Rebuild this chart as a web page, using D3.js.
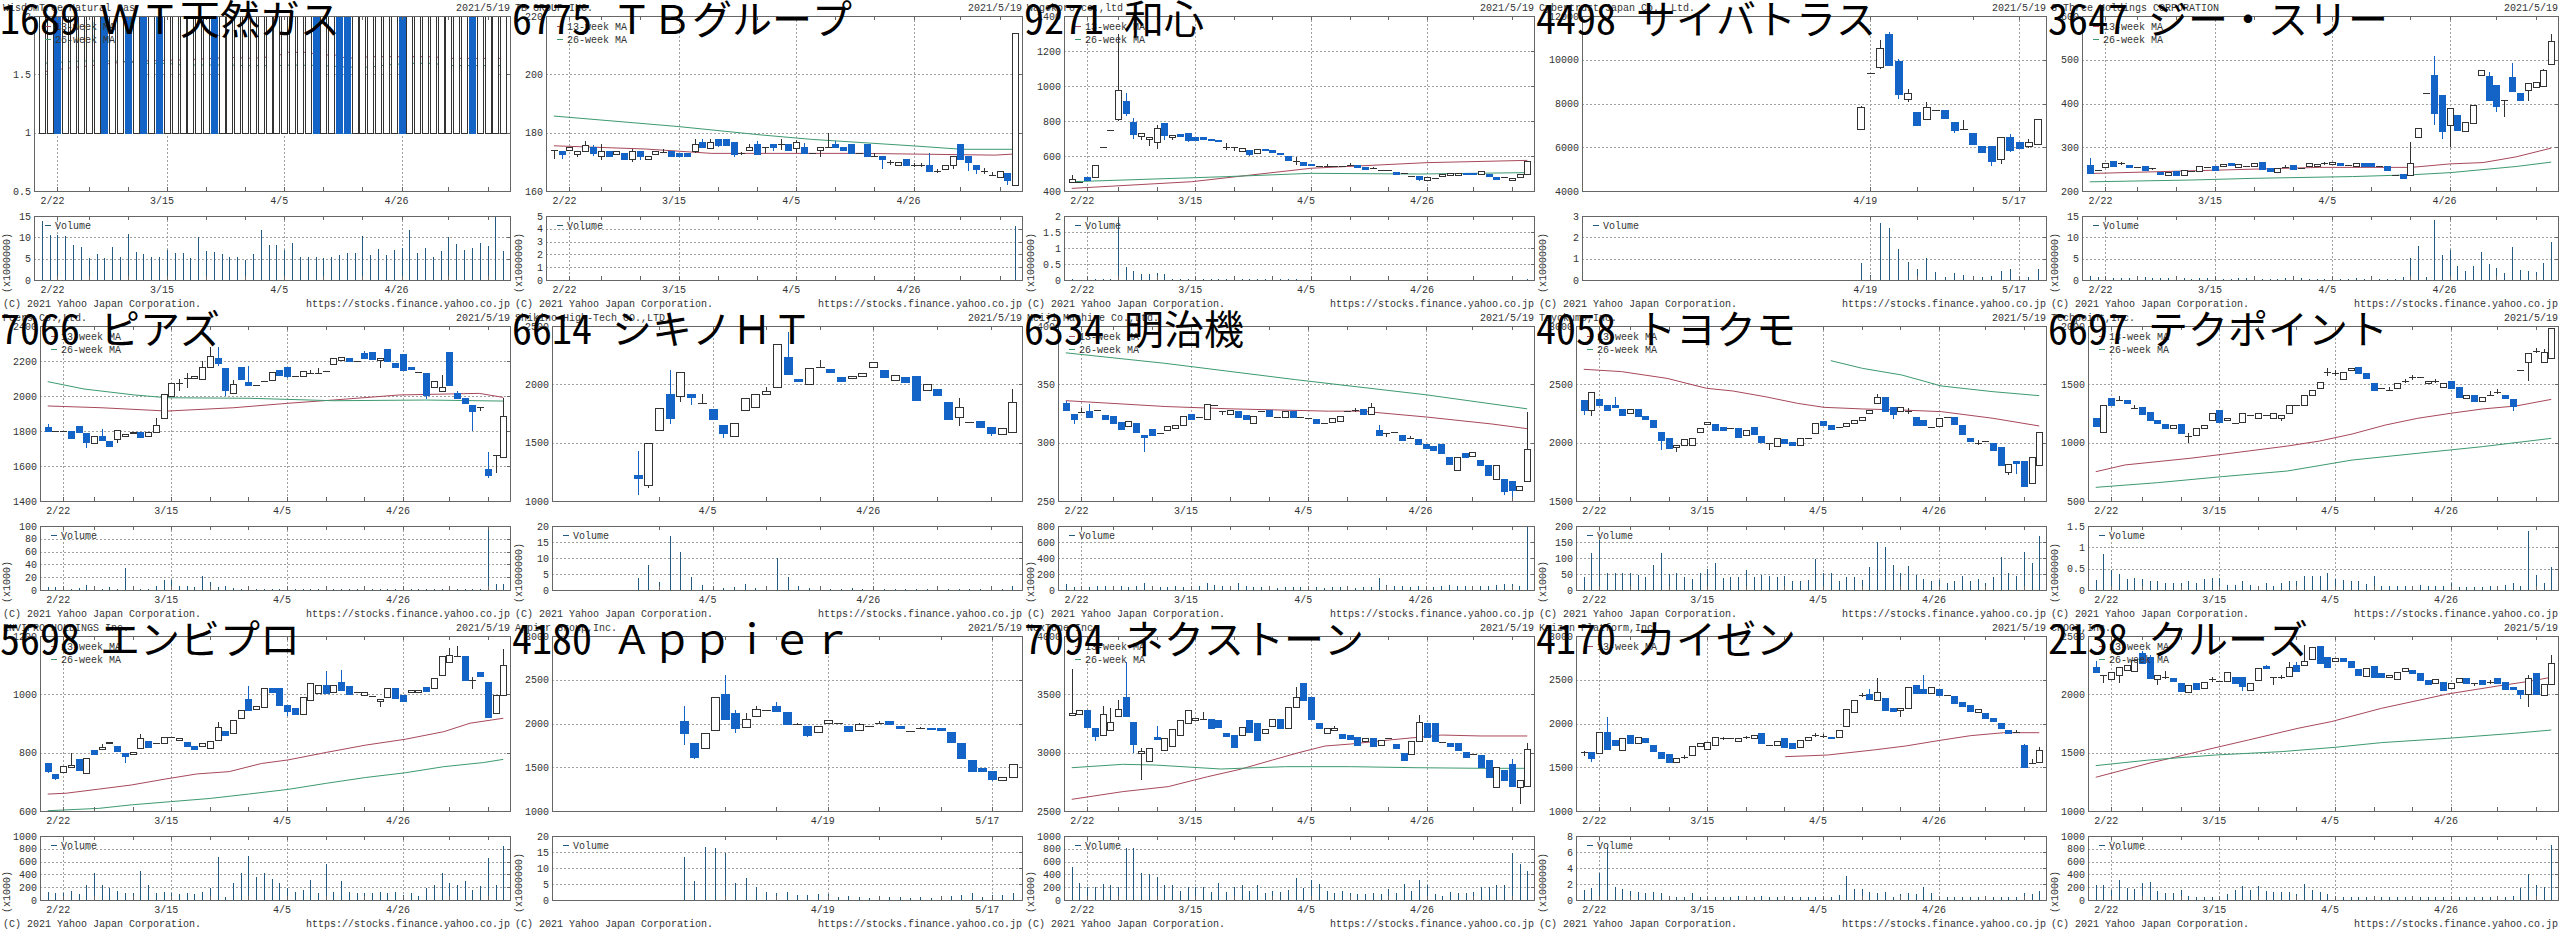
<!DOCTYPE html>
<html>
<head>
<meta charset="utf-8">
<script src="https://cdn.jsdelivr.net/npm/d3@7"></script>
<style>
  html, body { margin: 0; padding: 0; background: #fff; }
  svg text { font-family: "Liberation Mono", "DejaVu Sans Mono", monospace; font-size: 10px; fill: #333; }
  svg text.ttl { font-family: "Noto Sans Mono CJK JP", "Noto Sans CJK JP", sans-serif; font-size: 40px; fill: #000; }
</style>
</head>
<body>
<svg id="chart" width="2560" height="930"></svg>
<script>
// trading days shown on the x axis (2021)
const days = ["2/18","2/19","2/22","2/24","2/25","2/26","3/1","3/2","3/3","3/4","3/5","3/8","3/9","3/10","3/11","3/12",
  "3/15","3/16","3/17","3/18","3/19","3/22","3/23","3/24","3/25","3/26","3/29","3/30","3/31","4/1","4/2",
  "4/5","4/6","4/7","4/8","4/9","4/12","4/13","4/14","4/15","4/16","4/19","4/20","4/21","4/22","4/23",
  "4/26","4/27","4/28","4/30","5/6","5/7","5/10","5/11","5/12","5/13","5/14","5/17","5/18","5/19"];
const weekTicks = ["2/22","3/1","3/8","3/15","3/22","3/29","4/5","4/12","4/19","4/26","5/10","5/17"];
const fullLabels = ["2/22","3/15","4/5","4/26"];

const codes = ["1689","6775","9271","4498","3647","7066","6614","6334","4058","6697","5698","4180","7094","4170","2138"];
const titles = ["1689 ＷＴ天然ガス","6775 ＴＢグループ","9271 和心","4498 サイバトラス","3647 ジー・スリー",
  "7066 ピアズ","6614 シキノＨＴ","6334 明治機","4058 トヨクモ","6697 テクポイント",
  "5698 エンビプロ","4180 Ａｐｐｉｅｒ","7094 ネクストーン","4170 カイゼン","2138 クルーズ"];
const names = ["WisdomTree Natural Gas","TB GROUP INC.","Wagokoro co.,ltd","Cybertrust Japan Co., Ltd.","G Three Holdings CORPORATION",
  "Peers Co.,Ltd.","Shikino High-Tech CO.,LTD.","Meiji Machine Co.,Ltd.","Toyokumo,Inc.","Techpoint,Inc.",
  "ENVIPRO HOLDINGS Inc.","Appier Group,Inc.","NexTone Inc.","Kaizen Platform,Inc.","CROOZ,Inc."];
const firstDay = ["2/18","2/18","2/18","4/16","2/18","2/18","3/25","2/18","2/18","2/18","2/18","3/30","2/18","2/18","2/18"];
const dateLabels = [fullLabels, fullLabels, fullLabels, ["4/19","5/17"], fullLabels,
  fullLabels, ["4/5","4/26"], fullLabels, fullLabels, fullLabels,
  fullLabels, ["4/19","5/17"], fullLabels, fullLabels, fullLabels];
const yTicks = [[0.5,1,1.5,2],[160,180,200,220],[400,600,800,1000,1200,1400],[4000,6000,8000,10000,12000],[200,300,400,500,600],
  [1400,1600,1800,2000,2200,2400],[1000,1500,2000,2500],[250,300,350,400],[1500,2000,2500,3000],[500,1000,1500,2000],
  [600,800,1000,1200],[1000,1500,2000,2500,3000],[2500,3000,3500,4000],[1000,1500,2000,2500,3000],[1000,1500,2000,2500]];
const volTicks = [[0,5,10,15],[0,1,2,3,4,5],[0,0.5,1,1.5,2],[0,1,2,3],[0,5,10,15],
  [0,20,40,60,80,100],[0,5,10,15,20],[0,200,400,600,800],[0,50,100,150,200],[0,0.5,1,1.5],
  [0,200,400,600,800,1000],[0,5,10,15,20],[0,200,400,600,800,1000],[0,2,4,6,8],[0,200,400,600,800,1000]];
const volUnits = ["(x1000000)","(x1000000)","(x1000000)","(x1000000)","(x1000000)",
  "(x1000)","(x1000000)","(x1000)","(x1000)","(x1000000)",
  "(x1000)","(x1000000)","(x1000)","(x1000000)","(x1000)"];

// candles: [open, close] or [open, high, low, close] or [price] for a flat day
const ohlc1689 = [[1,2],[1,2],[2,1],[1,2],[1,2],[1,2],[1,2],[1,2],[2,1],[1,2],[1,2],[2,1],[1,2],[2,1],[1,2],[2,1],
  [1,2],[1,2],[1,2],[1,2],[1,2],[1,2],[2,1],[1,2],[1,2],[1,2],[1,2],[1,2],[1,2],[1,2],[1,2],[1,2],[1,2],[1,2],[1,2],
  [2,1],[1,2],[1,2],[2,1],[2,1],[1,2],[1,2],[1,2],[1,2],[1,2],[1,2],[2,1],[1,2],[1,2],[1,2],[1,2],[1,2],[1,2],[1,2],
  [1,2],[2,1],[1,2],[1,2],[1,2],[1,2]];
const vol1689 = [13.9,10.5,10.5,10.3,8.2,7.7,5.2,6.0,5.2,7.7,5.4,10.7,6.6,6.1,5.4,5.5,7.0,6.3,6.3,5.2,
  10.1,6.9,6.6,6.1,5.5,5.5,4.8,6.1,11.8,8.2,8.2,7.0,8.7,5.4,5.5,5.4,5.1,5.5,5.9,6.3,
  6.3,10.2,5.9,7.3,5.9,7.1,7.6,11.8,6.3,7.4,5.5,6.8,10.0,8.5,7.1,7.6,8.7,8.0,15.0,6.8];
const ma13_1689 = [[0,1.52],[3,1.55],[7,1.58],[11,1.61],[16,1.62],[20,1.63],[24,1.645],[27,1.637],[28.5,1.646],[30,1.657],
  [31.5,1.689],[34,1.689],[35.5,1.666],[37.5,1.666],[39,1.637],[42,1.651],[50,1.651],[52,1.637],[59,1.637]];
const ma26_1689 = [[0,1.594],[5,1.614],[10,1.614],[13,1.594],[16,1.594],[18,1.58],[24,1.58],[26,1.575],[30,1.575],[32,1.58],
  [36,1.575],[39,1.562],[42,1.562],[44,1.58],[47,1.594],[50,1.594],[52,1.575],[59,1.575]];

const ohlc6775 = [[174,174,171,174],[173.8,173.8,170.9,172.9],[174.1,175.2],[172.9,173.8,171.8,173.8],[173.8,177.1,173.8,175.8],
  [175,175.7,172,172.9],[172,176,170.7,173.8],[173.8,172],[172.9,173.8],[172.9,170.9],[170.9,174.3,169.9,173.8],
  [173.8,173.8,170.7,172],[170.9,172],[172.9,173.8],[173.5,174.3,172.9,173.5],[173.8,172],[173.1,172],[173.1,172],
  [173.8,178,172.9,176.1],[176.9,178,175.2,175.2],[175,178,175,176.9],[178,178,175,176.1],[178,176.1],
  [176.9,176.9,171.8,172.7],[172.9,173.3,172.5,172.9],[174.1,176,174.1,175.2],[176.1,177,172.7,172.7],[175,175,173,175],
  [176.1,176.1,173.8,175],[176.1,178,174,176.1],[176.1,174.1],[175,177.5,173,176.9],[175,176.5,172.9,172.9],[173.1],
  [173.8,175,171.8,175],[175.2,179.8,175.2,175.2],[176.1,177,175,175],[175.2,174.1],[176.1,172.9],[173.1],[176.1,172],
  [172,172.9,172,172],[172,172,167.7,170.9],[169.8,170.5,169,169.8],[168.9,169.8],[170.9,168.9],[168.9,169.6,168.2,168.9],
  [168.9,169.6,168.2,168.9],[168.9,172.9,166.9,166.9],[166.9,167.6,166.2,166.9],[167.7,168.9],[168.9,172,167.7,172],
  [176.1,170.9],[172,172,167,169.8],[168.9,168.9,166,167.7],[166.9,167.8,165.7,166.9],[165.5,166.5,165.5,165.5],
  [164.9,166.9],[166.1,166.1,162,163.8],[162.1,214.1]];
const vol6775 = [0.02,0.02,0.02,0.01,0.02,0.02,0.02,0.01,0.01,0.02,0.02,0.01,0.01,0.01,0.01,0.02,0.02,0.02,0.03,0.02,
  0.02,0.02,0.02,0.02,0.01,0.01,0.02,0.01,0.01,0.01,0.01,0.02,0.01,0.01,0.01,0.02,0.01,0.01,0.02,0.01,
  0.02,0.01,0.02,0.01,0.01,0.01,0.01,0.01,0.02,0.01,0.01,0.01,0.02,0.02,0.01,0.01,0.01,0.01,0.02,4.2];
const ma13_6775 = [[0,175.5],[11.7,174.4],[20.2,172.9],[39.4,172.9],[56.4,172.3],[59,172.7]];
const ma26_6775 = [[0,185.7],[15.9,182.1],[26.6,179.2],[33,177.7],[45.8,175.5],[52.2,174.3],[59,174.3]];

const ohlc9271 = [[453,490,445,470],[453],[478,463],[478,549],[653],[749],[811,1300,800,977],[914,960,830,848],
  [796,815,700,730],[712,730,690,730],[700,710,660,710],[676,780,640,758],[787,787,690,720],[710,720,690,720],
  [724,710],[730,730,680,691],[710,691],[707,695],[695,690],[690,684],[653,672,634,653],[653,653,630,653],[630,648],
  [634,634,600,611],[615,640],[640,634],[634,621],[615,610],[600,600,570,577],[571,595,550,571],[564,549],[552,545],
  [545],[545,552,538,545],[545],[541],[549,560,549,549],[549,539],[535,524],[530,540,530,530],[520],[520],[510,501],
  [501],[486],[486,486,460,469],[463,482],[476],[482,495],[495,505],[495,505],[505,497],[505,497],[495,514],[495,486],
  [478,467],[482],[463,476],[478,497],[501,573]];
const vol9271 = [0.02,0.01,0.02,0.03,0.03,0.04,1.98,0.40,0.29,0.19,0.19,0.21,0.19,0.04,0.03,0.03,0.02,0.02,0.02,0.02,
  0.02,0.02,0.02,0.02,0.02,0.02,0.01,0.02,0.02,0.02,0.01,0.01,0.01,0.01,0.01,0.01,0.01,0.01,0.01,0.01,
  0.01,0.01,0.01,0.01,0.01,0.01,0.01,0.01,0.01,0.01,0.01,0.01,0.01,0.01,0.01,0.01,0.01,0.01,0.01,0.02];
const ma13_9271 = [[0,415],[15.5,453],[31,530],[46,562],[59,575]];
const ma26_9271 = [[0,453],[20,482],[31,501],[45,497],[59,505]];

const ohlc4498 = [[6865,7900,6800,7855],[9410],[9684,10900,9600,10552],[11162,11250,9700,9730],[9943,10050,8200,8434],
  [8190,8650,8070,8465],[7627,7048],[7322,8050,7322,7855],[7703],[7703,7322],[7170,7170,6650,6819],[6819,7250,6819,6819],
  [6636,6149],[6072,5798],[6072,6072,5150,5387],[5448,6453,5250,6453],[6453,6600,5800,5874],[6255,5981],
  [6072,6400,5950,6255],[6149,7291]];
const vol4498 = [0.78,0.23,2.69,2.42,1.44,0.83,0.5,1.05,0.39,0.16,0.31,0.23,0.19,0.16,0.19,0.44,0.5,0.16,0.16,0.5];

const ohlc3647 = [[259,275,238,240],[248],[256,265],[268,257],[263,266,260,263],[259,254],[256],[257,248],[253,253,249,253],
  [244,240],[237,244],[246,237],[237,248],[246],[246,257],[256],[258,248],[257,262],[263,258],[256,262],[258],[258,265],
  [267,252],[252,246],[244,252],[256,259,256,256],[259,250],[252],[256,263],[258,262],[263,266,260,263],[262,266],
  [263,258],[259],[258,265],[263,256],[263,256],[258],[257,248],[237],[239,231],[237,312,237,265],[324,345],[425],
  [465,508,350,378],[419,419,320,336],[349,389,300,389],[374,339],[338,358],[355,397],[465,477],[463,472,408,408],
  [442,442,380,393],[408,408,370,408],[460,492,427,427],[423,406],[431,446,405,446],[438,450],[440,480,440,477],
  [492,560,492,544]];
const vol3647 = [0.9,0.8,0.6,0.5,0.5,0.4,0.5,0.6,0.4,0.4,0.5,0.8,0.4,0.3,0.5,0.4,0.3,0.3,0.3,0.4,
  0.4,0.3,0.3,0.3,0.3,0.4,0.8,0.4,0.3,0.3,0.3,0.3,0.3,0.3,0.4,0.3,0.3,0.3,0.3,0.3,
  0.6,5.1,8.0,0.8,14.1,5.9,7.0,3.3,2.0,3.3,6.6,3.8,2.9,1.7,7.8,2.3,2.2,1.9,3.9,8.8];
const ma13_3647 = [[0,240],[12.7,246],[21,250],[29.4,254],[41.1,254],[46.1,262],[50.3,265],[54.5,278],[59,298]];
const ma26_3647 = [[0,221],[12.7,225],[21,229],[33.6,233],[41.1,237],[46.1,242],[54.5,256],[59,266]];

const ohlc7066 = [[1825,1840,1802,1802],[1802],[1802],[1802,1762],[1829,1796],[1787,1787,1705,1735],[1733,1771],
  [1771,1810,1749,1749],[1745,1714],[1752,1806,1730,1806],[1771,1783],[1785,1792],[1796,1768],[1771,1792],
  [1794,1875,1794,1832],[1872,2010],[1996,2072],[2076,2095,2030,2076],[2101,2130,2045,2101],[2105,2116],
  [2101,2200,2101,2168],[2168,2280,2168,2230],[2219,2280,2170,2192],[2158,2158,2000,2030],[2015,2090,2015,2069],
  [2168,2101],[2082,2170,2063,2063],[2063],[2088],[2088,2135],[2149,2120],[2168,2168,2105,2116],[2116],[2116,2145],
  [2130,2150,2130,2130],[2130,2160,2130,2130],[2145],[2183,2215],[2206,2221],[2219,2200],[2202],[2244,2255,2215,2215],
  [2250,2210],[2210,2219,2160,2219],[2267,2196],[2187,2164],[2240,2149],[2164,2152],[2139],[2130,2130,1985,2006],
  [2050,2086],[2030,2120,2030,2050],[2250,2059],[2015,2030,1987,1987],[1987,1958],[1949,1949,1800,1916],
  [1939,1939,1916,1939],[1581,1680,1530,1549],[1663,1663,1560,1663],[1653,1990,1653,1888]];
const vol7066 = [5,5,4,1,3,8,1,2,4,1,34,1,1,1,7,16,16,6,7,5,22,13,5,7,3,2,2,2,2,2,
  2,2,2,2,2,2,2,2,2,2,2,2,2,2,2,2,2,2,2,2,2,2,2,2,2,2,2,100,10,10];
const ma13_7066 = [[0,1943],[6.9,1933],[15.5,1914],[24.1,1933],[31,1958],[37,1977],[45.6,2006],[55.9,2015],[59,1992]];
const ma26_7066 = [[0,2082],[4.7,2040],[11.2,2006],[15.5,1990],[26.2,1987],[37,1973],[49,1977],[59,1971]];

const ohlc6614 = [[1223,1430,1050,1194],[1137,1494,1110,1494],[1609,1794],[1914,2126,1660,1709],[1900,2103,1850,2103],
  [1914,1914,1820,1889],[1843,1920,1843,1843],[1786,1703],[1651,1651,1540,1586],[1557,1666],[1780,1880],[1800,1914],
  [1914,1980,1914,1943],[1974,2343],[2237,2450,2094,2094],[2043,2023],[2003,2137],[2146,2210,2140,2146],[2131,2109],
  [2066,2031],[2051,2071],[2066,2094],[2146,2189],[2123,2060],[2037,2080],[2066,2023],[2071,1866],[1951,2003],
  [1960,1909],[1851,1851,1700,1709],[1723,1880,1640,1809],[1680],[1686,1637],[1637,1637,1560,1586],[1580,1629],
  [1594,1960,1594,1851]];
const vol6614 = [3.6,7.8,2.6,16.9,12.0,4.2,1.6,1.0,0.7,0.8,1.9,0.7,0.8,9.9,4.2,1.2,0.5,0.8,0.4,0.4,
  0.5,0.4,0.4,0.3,0.4,0.3,0.3,0.3,0.4,0.3,0.3,0.3,0.3,0.3,0.4,1.2];

const ohlc6334 = [[334,336,328,328],[325,325,316,321],[326,330,326,326],[327,333,322,322],[328],[324,321],[323,317],
  [318,312],[315,319],[317,309],[307,307,292,305],[312,307],[308],[311,314],[312,315],[315,323],[325,321],[322],
  [320,333],[332],[327,327,324,327],[325,328],[327,322],[324,321],[317,323],[327],[328,323],[322],[322,327],[327,322],
  [322],[321],[320,317],[317],[318,321],[319,323],[327],[328,330,326,328],[329,325],[325,334,325,331],
  [311,315,307,307],[308,308,305,308],[309],[307,303],[304,306,304,304],[303,299],[299,296],[297,294],[299,291],
  [288,282],[277,288],[291,288],[289,292],[285,281],[281,272],[269,281],[269,269,255,259],[267,267,253,259],
  [260,263],[268,326,266,295]];
const vol6334 = [75,40,55,35,50,55,45,55,40,45,90,50,40,35,45,40,30,45,85,60,
  50,35,85,45,40,35,40,30,35,35,40,30,35,30,35,35,40,30,35,40,
  150,60,50,45,40,50,45,40,55,60,55,50,40,45,55,60,75,70,50,800];
const ma13_6334 = [[0,336],[12.7,331],[21,329],[33.6,327],[37.8,327],[46.1,322],[54.5,316],[59,312]];
const ma26_6334 = [[0,377],[12.7,368],[29.4,354],[46.1,341],[59,329]];

const ohlc4058 = [[2366,2366,2240,2280],[2280,2437,2230,2437],[2371,2323],[2323,2280],[2323,2390,2303,2303],[2286,2237],
  [2251,2286],[2289,2229],[2229,2200],[2194,2137],[2094,2094,1940,2023],[2043,1960],[1960,1980,1920,1980],[1980,2029],
  [1980,2037],[2086,2123],[2157,2174],[2157,2103],[2131,2103],[2123],[2123,2043],[2066,2109],[2137,2074],[2057,2009],
  [1994,1994,1940,1994],[1971,2037],[2031,1994],[2009,1980],[1986,2043],[2037],[2080,2166],[2186,2151],[2151,2117],
  [2131],[2137,2166],[2166,2194],[2200,2223],[2251,2280],[2337,2420,2337,2389],[2389,2266],[2309,2309,2200,2251],
  [2274,2309],[2274,2300,2250,2274],[2223,2151],[2194,2151],[2131],[2137,2209],[2223],[2223,2160],[2151,2074],
  [2037,2009],[2000,2020,1980,2000],[2017],[1994,1937],[1966,1809],[1751,1817,1720,1817],[1846,1846,1730,1829],
  [1846,1631],[1654,1874],[1809,2094]];
const vol4058 = [42,117,156,52,52,52,52,47,42,78,115,50,52,42,33,52,65,83,36,42,
  42,63,42,47,44,42,44,29,29,31,96,52,52,29,42,42,31,73,151,135,
  78,52,75,47,33,29,31,23,29,44,29,33,21,42,104,52,44,118,83,169];
const ma13_4058 = [[0,2629],[4.9,2609],[10.8,2551],[15.9,2466],[19.3,2443],[23.5,2394],[27.7,2337],[31.1,2303],
  [36.1,2289],[41.2,2280],[46.3,2266],[53,2209],[59,2143]];
const ma26_4058 = [[32,2703],[36.1,2637],[41.2,2580],[46.3,2486],[53,2437],[59,2403]];

const ohlc6697 = [[1209,1137],[1094,1323],[1380,1323],[1366,1400,1366,1366],[1366,1337],[1294,1320,1294,1294],
  [1309,1251],[1266,1194],[1194,1166],[1160,1123],[1123,1151],[1160,1086],[1057,1080,1000,1057],[1066,1123],
  [1123,1151],[1194,1251],[1280,1180],[1189,1209],[1171],[1171,1251],[1237],[1209,1251],[1237],[1209,1251],
  [1209,1237,1190,1237],[1251,1323],[1323],[1323,1409],[1409,1451],[1474,1523],[1603,1640,1570,1603],
  [1594,1620,1570,1594],[1551,1609],[1617,1637],[1646,1594],[1594,1551],[1509,1451],[1466],[1451,1480,1451,1451],
  [1466,1509],[1531,1550,1510,1531],[1560,1580,1540,1560],[1566],[1509,1529],[1531,1550,1515,1531],[1480,1514],
  [1531,1474],[1474,1389],[1380,1409],[1409,1360],[1351,1389],[1409,1440,1409,1409],[1437,1460,1420,1437],
  [1409,1380],[1371,1371,1270,1309],[1623],[1694,1771,1530,1771],[1789,1810,1770,1789],[1694,1800,1694,1780],
  [1723,1980]];
const vol6697 = [0.23,0.84,0.48,0.37,0.25,0.29,0.25,0.22,0.2,0.17,0.16,0.17,0.2,0.17,0.25,0.27,0.27,0.12,0.12,0.2,
  0.12,0.08,0.16,0.09,0.17,0.2,0.2,0.33,0.33,0.33,0.39,0.25,0.23,0.22,0.2,0.14,0.33,0.09,0.09,0.09,
  0.09,0.09,0.12,0.09,0.09,0.09,0.17,0.08,0.06,0.06,0.08,0.09,0.09,0.12,0.16,0.09,1.39,0.35,0.17,0.55];
const ma13_6697 = [[0,751],[3.8,809],[12.2,866],[16.4,900],[24.8,971],[29,1014],[33.2,1074],[37.5,1151],[41.7,1209],
  [45.9,1251],[50.1,1289],[54.4,1314],[59,1371]];
const ma26_6697 = [[0,617],[8,657],[16.4,709],[24.8,757],[33.2,851],[41.7,909],[50.1,966],[59,1037]];

const ohlc5698 = [[766,766,730,738],[727,727,705,715],[735,754],[752,800,752,758],[777,741],[731,781],[809,795],
  [811,830,811,818],[830,835],[823,807],[800,800,765,789],[797,803],[815,865,815,849],[841,821],[832],[832,853],[853],
  [843,849],[838,826],[824,815],[821,832],[818,841],[843,905,843,889],[874,861],[866,912],[918,946],[983,1030,946,946],
  [949,960],[955,1021],[1021,1006],[1021,963],[963,963,925,941],[952,933],[933,990],[981,1038],[1003,1032],
  [1032,1080,1003,1003],[1009,1032],[1043,1085,1015,1015],[1029,1001],[1009],[998,1009],[994],[975,983,955,983],
  [990,1021],[1021,986],[998,978],[1009,1015],[1009,1015],[1026,1011],[1021,1055],[1066,1131],[1112,1160,1112,1135],
  [1131,1165,1131,1131],[1131,1049],[1049,1060,1020,1049],[1078,1063],[1043,1043,920,923],[937,998],[998,1155,998,1101]];
const vol5698 = [130,104,115,146,94,234,417,234,193,146,115,104,458,234,115,130,104,94,104,94,
  130,182,677,52,260,417,688,365,427,323,260,182,130,156,313,115,557,130,297,130,
  115,115,104,130,115,130,78,115,63,182,234,417,260,234,302,156,219,651,234,844];
const ma13_5698 = [[0,658],[2.4,661],[6.6,675],[10.8,689],[15.1,709],[19.3,727],[23.5,735],[27.7,763],[31.1,775],
  [36.1,801],[41.2,826],[46.3,846],[51.3,872],[54.7,901],[59,918]];
const ma26_5698 = [[0,601],[6.6,609],[10.8,621],[15.9,632],[21,643],[26,658],[31.1,674],[36.1,695],[41.2,715],
  [46.3,731],[51.3,752],[56.4,766],[59,777]];

const ohlc4180 = [[2029,2200,1750,1895],[1773,1773,1600,1613],[1728,1895],[1918,2299],[2337,2560,2051,2051],
  [2116,2150,1890,1945],[1956,2120,1956,2048],[2078,2200,2078,2162],[2154],[2200,2250,2147,2147],[2128,1990],
  [1994,2010,1980,1994],[1971,1971,1850,1869],[1907,1971],[2010,2040],[2002],[1971,1914],[1926,2010,1926,1990],[1971],
  [2010,2030,1995,2010],[2029,1990],[1971,1945],[1918],[1952,1965,1940,1952],[1945,1933],[1952,1933],[1899,1781],
  [1781,1613],[1583,1461],[1488,1450],[1461,1461,1340,1373],[1362,1392],[1385,1537]];
const vol4180 = [13.3,5.9,16.7,16.1,14.6,5.2,6.8,4.2,2.6,2.3,2.6,1.6,1.6,1.9,1.9,0.8,1.25,0.8,0.5,0.5,
  0.8,0.8,0.5,0.8,0.5,0.8,1.25,1.6,2.3,0.8,1.6,1.6,2.1];

const ohlc7094 = [[3323,3720,3323,3337],[3331,3366],[3366,3223],[3209,3209,3100,3137],[3151,3400,3151,3331],
  [3194,3380,3194,3260],[3314,3450,3314,3371],[3474,3780,3309,3309],[3266,3266,3000,3080],[3000,3040,2770,3017],
  [2923,3037],[3137,3230,3123,3123],[3017,3123],[3051,3200],[3151,3280],[3251,3366],[3280,3294],[3289,3350,3289,3289],
  [3289,3209],[3280,3223],[3166,3137],[3151,3046],[3151,3223],[3280,3180],[3251,3109],[3166,3200],[3229,3286],
  [3289,3209],[3209,3389],[3389,3560,3389,3474],[3594,3451],[3474,3286],[3251,3209],[3166,3209],[3194,3230,3194,3209],
  [3160,3123],[3151,3114],[3131,3066],[3094,3123],[3123,3051],[3066,3109],[3123],[3074,3037],[3000,2937],[2994,3103],
  [3103,3320,3103,3266],[3257,3137],[3251,3094],[3094],[3086,3057],[3080,3017],[3009,2966],[2989],[2980,2880],
  [2937,2794],[2709,2880],[2851,2766],[2903,2950,2714,2714],[2709,2766,2560,2766],[2714,3080,2714,3029]];
const vol7094 = [521,271,208,208,245,234,208,818,818,417,401,365,234,234,146,208,208,208,130,260,
  130,208,234,146,234,115,146,130,156,339,182,313,250,146,104,146,104,94,94,115,
  94,167,104,250,146,313,234,94,63,130,115,115,130,208,208,234,234,740,563,458];
const ma13_7094 = [[0,2600],[6.6,2666],[12.5,2709],[17.6,2794],[21.8,2857],[26,2937],[29.4,3000],[32.8,3057],
  [36.1,3074],[41.2,3109],[47.9,3151],[53,3143],[59,3143]];
const ma26_7094 = [[0,2871],[6.6,2900],[10.8,2894],[19.3,2860],[27.7,2880],[36.1,2880],[44.6,2871],[53,2866],[59,2866]];

const ohlc4170 = [[1670,1690,1630,1670],[1670,1670,1560,1602],[1667,1907],[1907,2070,1716,1716],[1811,1754],[1697,1830],
  [1869,1781],[1781,1850],[1830,1781],[1754,1690],[1678,1613],[1651,1564],[1552,1602],[1621,1640,1600,1621],[1640,1743],
  [1735,1773],[1716,1792],[1754,1842],[1830,1850,1810,1830],[1838],[1792,1830],[1842,1860,1825,1842],[1830,1869],
  [1888,1773],[1754],[1754,1804],[1830,1727],[1773,1716],[1735,1811],[1804,1842],[1869,1890,1850,1869],
  [1857,1875,1840,1857],[1845,1838],[1850,1926],[1964,2162],[2135,2269],[2325,2345,2305,2325],[2337,2400,2276,2276],
  [2269,2520,2269,2364],[2288,2147],[2173,2135],[2147,2173,2080,2173],[2185,2421],[2440,2345],[2390,2550,2345,2345],
  [2345,2413],[2390,2326],[2326],[2314,2238],[2250,2200],[2211,2147],[2124,2162],[2124,2070],[2059,2021],[2010,1956],
  [1926,1895],[1907,1925,1890,1907],[1754,1770,1500,1500],[1552,1600,1552,1552],[1564,1730,1564,1697]];
const vol4170 = [1.25,1.54,3.33,6.67,1.67,1.33,1.17,1.04,0.92,1.04,0.92,0.5,0.33,0.42,0.83,0.42,0.33,0.33,0.42,0.33,
  0.5,0.33,0.42,0.5,0.33,0.42,0.33,0.33,0.33,0.33,0.33,0.33,0.42,0.63,3.0,1.33,1.33,1.04,0.83,1.04,
  0.42,0.75,0.92,0.75,1.67,0.92,0.42,0.33,0.33,0.33,0.33,0.33,0.33,0.33,0.42,0.33,0.42,0.92,0.75,1.17];
const ma13_4170 = [[26.1,1621],[31.6,1640],[37.5,1697],[41.7,1743],[45.9,1804],[50.1,1861],[54.4,1895],[59,1895]];

const ohlc2138 = [[2231,2290,2186,2186],[2163,2163,2100,2163],[2137,2194],[2166,2231,2100,2231],[2209,2251],[2203,2294],
  [2357,2370,2271,2271],[2317,2340,2137,2137],[2129,2166,2080,2166],[2151,2200,2130,2151],[2137,2109],[2094,2023],
  [2023,2080],[2100,2051],[2060,2109],[2129,2145,2110,2129],[2117],[2117,2194],[2151,2100],[2146,2146,2030,2066],
  [2037,2094],[2123,2223],[2243,2250,2229,2229],[2151,2151,2080,2151],[2151,2170,2135,2151],[2157,2280,2157,2237],
  [2251,2280,2203,2203],[2251,2420,2251,2286],[2300,2403],[2414,2266],[2323,2237],[2286,2309],[2309,2280],[2289,2237],
  [2214,2166],[2157,2223],[2243,2151],[2186,2151],[2146,2166],[2137,2194],[2194,2223],[2209,2180],[2186,2129],
  [2123,2089],[2094,2129],[2109,2043],[2060,2100],[2100,2137],[2137,2094],[2094,2094,2070,2094],[2123,2089],
  [2109,2125,2090,2109],[2137,2094],[2109,2051],[2066,2046],[2037,2037,1960,2003],[2003,2170,1890,2137],[2180,2003],
  [1994,2089],[2094,2340,2094,2271]];
const vol2138 = [234,234,156,313,182,167,271,276,146,115,115,156,63,42,42,52,52,94,156,224,
  156,219,146,130,130,130,94,245,156,130,94,42,42,42,52,42,42,42,42,42,
  42,42,42,42,42,42,42,42,42,42,42,42,42,42,63,182,406,234,208,859];
const ma13_2138 = [[0,1289],[6.9,1409],[13.3,1509],[19.8,1609],[26.2,1709],[30.5,1766],[37,1880],[45.6,2003],[52,2071],
  [55.9,2109],[59,2146]];
const ma26_2138 = [[0,1389],[6.9,1437],[15.5,1480],[24.1,1509],[31,1546],[37,1586],[45.6,1623],[54.2,1666],[59,1694]];

// table of series per panel, same order as codes
const panels = [
  {ohlc: ohlc1689, vol: vol1689, ma13: ma13_1689, ma26: ma26_1689},
  {ohlc: ohlc6775, vol: vol6775, ma13: ma13_6775, ma26: ma26_6775},
  {ohlc: ohlc9271, vol: vol9271, ma13: ma13_9271, ma26: ma26_9271},
  {ohlc: ohlc4498, vol: vol4498},
  {ohlc: ohlc3647, vol: vol3647, ma13: ma13_3647, ma26: ma26_3647},
  {ohlc: ohlc7066, vol: vol7066, ma13: ma13_7066, ma26: ma26_7066},
  {ohlc: ohlc6614, vol: vol6614},
  {ohlc: ohlc6334, vol: vol6334, ma13: ma13_6334, ma26: ma26_6334},
  {ohlc: ohlc4058, vol: vol4058, ma13: ma13_4058, ma26: ma26_4058},
  {ohlc: ohlc6697, vol: vol6697, ma13: ma13_6697, ma26: ma26_6697},
  {ohlc: ohlc5698, vol: vol5698, ma13: ma13_5698, ma26: ma26_5698},
  {ohlc: ohlc4180, vol: vol4180},
  {ohlc: ohlc7094, vol: vol7094, ma13: ma13_7094, ma26: ma26_7094},
  {ohlc: ohlc4170, vol: vol4170, ma13: ma13_4170},
  {ohlc: ohlc2138, vol: vol2138, ma13: ma13_2138, ma26: ma26_2138}
];
// left end of the time axis (in trading-day index), new listings use a shorter window
const xStart = [-1,-1,-1,10,-1, -1,16,-1,-1,-1, -1,14.15,-1,-1,-1];

const PW = 512, PH = 310;
const BLUE = "#1464c8", DARK = "#333", FRAME = "#666", GRID = "#a0a0a0";
const RED = "#a8485a", GREEN = "#3d9a70", VOLC = "#235a80";

let svg = d3.select("#chart");

function norm(c) {
  if (c.length === 1) return [c[0], c[0], c[0], c[0]];
  if (c.length === 2) return [c[0], Math.max(c[0], c[1]), Math.min(c[0], c[1]), c[1]];
  return c;
}

function drawPanel(k) {
  let p = panels[k];
  let g = svg.append("g")
    .attr("transform", `translate(${(k % 5) * PW}, ${Math.floor(k / 5) * PH})`);

  let labelLen = d3.max(yTicks[k].concat(volTicks[k]), d => String(d).length);
  let left = 16 + 6 * labelLen, right = 511;
  let px = v => Math.round(v) + 0.5;

  let x = d3.scaleLinear().domain([xStart[k], 60]).range([left, right]);
  let step = x(1) - x(0);
  let y = d3.scaleLinear().domain(d3.extent(yTicks[k])).range([191, 16]);
  let yv = d3.scaleLinear().domain(d3.extent(volTicks[k])).range([280, 216]);
  let i0 = days.indexOf(firstDay[k]);
  let weeks = weekTicks.map(d => days.indexOf(d)).filter(i => i >= i0 || xStart[k] < 0);
  let labels = dateLabels[k].map(d => days.indexOf(d));

  // header
  g.append("text").attr("x", 3).attr("y", 11).text(names[k]);
  g.append("text").attr("x", 510).attr("y", 11).attr("text-anchor", "end").text("2021/5/19");

  // both boxes: price and volume
  let boxes = [[y, yTicks[k], 16, 191, 204], [yv, volTicks[k], 216, 280, 293]];
  boxes.forEach(([sc, ticks, top, bot, ly]) => {
    let grid = g.append("g").attr("shape-rendering", "crispEdges");
    grid.selectAll("line.h").data(ticks.slice(1, -1)).join("line")
      .attr("x1", left).attr("x2", right)
      .attr("y1", d => px(sc(d))).attr("y2", d => px(sc(d)))
      .attr("stroke", GRID).attr("stroke-dasharray", "2,2");
    grid.selectAll("line.v").data(labels).join("line")
      .attr("x1", d => px(x(d))).attr("x2", d => px(x(d)))
      .attr("y1", top).attr("y2", bot)
      .attr("stroke", GRID).attr("stroke-dasharray", "2,2");
    // y labels
    g.append("g").selectAll("text").data(ticks).join("text")
      .attr("x", left - 3).attr("y", d => sc(d)).attr("dy", "0.35em")
      .attr("text-anchor", "end").text(d => String(d));
    // x labels
    g.append("g").selectAll("text").data(labels).join("text")
      .attr("x", d => x(d) - 5).attr("y", ly)
      .attr("text-anchor", "middle").text(d => days[d]);
  });

  // clip region for price marks
  svg.append("clipPath").attr("id", "clip" + k)
    .append("rect").attr("x", left).attr("y", 16).attr("width", right - left).attr("height", 175);
  let plot = g.append("g").attr("clip-path", `url(#clip${k})`);

  // moving averages
  let line = d3.line().x(d => x(d[0])).y(d => y(d[1]));
  if (p.ma13) plot.append("path").attr("d", line(p.ma13)).attr("fill", "none").attr("stroke", RED).attr("stroke-width", 1);
  if (p.ma26) plot.append("path").attr("d", line(p.ma26)).attr("fill", "none").attr("stroke", GREEN).attr("stroke-width", 1);

  // candles
  let bw = Math.round(step * 0.75);
  let cs = p.ohlc.map((c, j) => { let v = norm(c); return {i: i0 + j, o: v[0], h: v[1], l: v[2], c: v[3]}; });
  let colorOf = d => d.c < d.o ? BLUE : DARK;
  let cg = plot.append("g").attr("shape-rendering", "crispEdges");
  cg.selectAll("line.wick").data(cs).join("line")
    .attr("x1", d => px(x(d.i))).attr("x2", d => px(x(d.i)))
    .attr("y1", d => y(d.h)).attr("y2", d => y(d.l))
    .attr("stroke", colorOf);
  cg.selectAll("rect").data(cs.filter(d => d.o !== d.c)).join("rect")
    .attr("x", d => Math.round(x(d.i) - bw / 2) + 0.5)
    .attr("y", d => Math.round(y(Math.max(d.o, d.c))) + 0.5)
    .attr("width", bw)
    .attr("height", d => Math.max(1, Math.round(Math.abs(y(d.o) - y(d.c)))))
    .attr("fill", d => d.c < d.o ? BLUE : "#fff")
    .attr("stroke", colorOf);
  cg.selectAll("line.flat").data(cs.filter(d => d.o === d.c)).join("line")
    .attr("x1", d => Math.round(x(d.i) - bw / 2)).attr("x2", d => Math.round(x(d.i) + bw / 2) + 1)
    .attr("y1", d => px(y(d.o))).attr("y2", d => px(y(d.o)))
    .attr("stroke", DARK);

  // volume
  g.append("g").attr("shape-rendering", "crispEdges")
    .selectAll("line").data(p.vol).join("line")
    .attr("x1", (d, j) => px(x(i0 + j))).attr("x2", (d, j) => px(x(i0 + j)))
    .attr("y1", yv(0)).attr("y2", d => yv(d))
    .attr("stroke", VOLC);

  // frames and small ticks
  boxes.forEach(([sc, ticks, top, bot]) => {
    let fr = g.append("g").attr("shape-rendering", "crispEdges");
    fr.append("rect").attr("x", left + 0.5).attr("y", top + 0.5)
      .attr("width", right - left - 1).attr("height", bot - top)
      .attr("fill", "none").attr("stroke", FRAME);
    fr.selectAll("line.t").data(weeks).join("line")
      .attr("x1", d => px(x(d))).attr("x2", d => px(x(d))).attr("y1", top).attr("y2", top + 4).attr("stroke", FRAME);
    fr.selectAll("line.b").data(weeks).join("line")
      .attr("x1", d => px(x(d))).attr("x2", d => px(x(d))).attr("y1", bot - 4).attr("y2", bot).attr("stroke", FRAME);
    fr.selectAll("line.r").data(ticks).join("line")
      .attr("x1", right - 4).attr("x2", right).attr("y1", d => px(sc(d))).attr("y2", d => px(sc(d))).attr("stroke", FRAME);
  });

  // legends
  let lx = left + 11;
  let leg = [];
  if (p.ma13) leg.push(["13-week MA", RED, 26]);
  if (p.ma26) leg.push(["26-week MA", GREEN, 39]);
  leg.push(["Volume", VOLC, 225]);
  leg.forEach(([t, col, ty]) => {
    g.append("line").attr("x1", lx).attr("x2", lx + 6).attr("y1", ty + 0.5).attr("y2", ty + 0.5)
      .attr("stroke", col).attr("shape-rendering", "crispEdges");
    g.append("text").attr("x", lx + 10).attr("y", ty).attr("dy", "0.35em").text(t);
  });

  // volume unit (rotated) and footer
  g.append("text").attr("transform", "translate(10, 293) rotate(-90)").text(volUnits[k]);
  g.append("text").attr("x", 3).attr("y", 307).text("(C) 2021 Yahoo Japan Corporation.");
  g.append("text").attr("x", 510).attr("y", 307).attr("text-anchor", "end").text("https://stocks.finance.yahoo.co.jp");

  // big title overlay
  g.append("text").attr("class", "ttl").attr("x", 0).attr("y", 34).text(titles[k]);
}

codes.forEach((c, k) => drawPanel(k));
</script>
</body>
</html>
